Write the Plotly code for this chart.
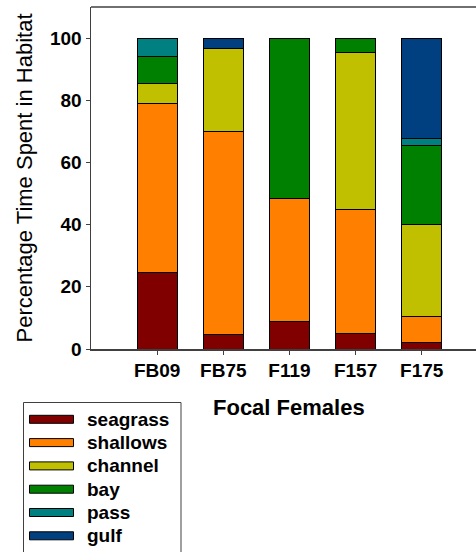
import plotly.graph_objects as go

# Time budget of each tracked female across habitat types (%)
females = ["FB09", "FB75", "F119", "F157", "F175"]
habitats = ["seagrass", "shallows", "channel", "bay", "pass", "gulf"]
colors = ["#800000", "#FF8000", "#C0C000", "#008000", "#008080", "#004080"]

seagrass = [24.5, 4.7, 8.9, 5.1, 2.2]
shallows = [54.6, 65.1, 39.4, 39.9, 8.3]
channel = [6.4, 26.7, 0.0, 50.4, 29.7]
bay = [8.5, 0.0, 51.7, 4.6, 25.2]
pass_ = [6.0, 0.0, 0.0, 0.0, 2.4]
gulf = [0.0, 3.5, 0.0, 0.0, 32.2]
series = [seagrass, shallows, channel, bay, pass_, gulf]

y_ticks = [0, 20, 40, 60, 80, 100]

W, H = 476, 552
ML, MR, MT, MB = 91, 0, 7, 203
PW, PH = W - ML - MR, H - MT - MB
PX_PER_CAT = 66.15

FONT = "Liberation Sans, Arial, sans-serif"
AXIS_COL = "#404040"

fig = go.Figure()
for name, vals, col in zip(habitats, series, colors):
    fig.add_trace(go.Bar(
        x=list(range(len(females))), y=vals, name=name, width=0.6,
        marker=dict(color=col, line=dict(color="black", width=1)),
        showlegend=False,
    ))


def px_x(px):
    return (px - ML) / PW


def px_y(py):
    return (H - MB - py) / PH


shapes = [
    # keep the open right side of the frame clean
    dict(type="rect", xref="paper", yref="paper",
         x0=px_x(466), x1=px_x(478), y0=px_y(347.6), y1=px_y(8.6),
         line=dict(width=0), fillcolor="white", layer="above"),
    # top frame line of the plot area
    dict(type="line", xref="paper", yref="paper", x0=0, x1=1.01, y0=1, y1=1,
         line=dict(color=AXIS_COL, width=1.5), layer="above"),
]

# Hand-built legend with wide swatches
shapes.append(dict(type="rect", xref="paper", yref="paper",
                   x0=px_x(23.5), x1=px_x(181), y0=px_y(402.5), y1=px_y(560),
                   line=dict(color=AXIS_COL, width=1), fillcolor="white", layer="above"))
annotations = []
for i, (name, col) in enumerate(zip(habitats, colors)):
    cy = 419.3 + 23.3 * i
    shapes.append(dict(type="rect", xref="paper", yref="paper",
                       x0=px_x(29.5), x1=px_x(73.5), y0=px_y(cy + 4), y1=px_y(cy - 4),
                       line=dict(color="black", width=1), fillcolor=col, layer="above"))
    annotations.append(dict(xref="paper", yref="paper", x=px_x(85), y=px_y(cy),
                            xanchor="left", yanchor="middle", showarrow=False,
                            text=f"<b>{name}</b>",
                            font=dict(family=FONT, size=19, color="black")))

# X axis title
annotations.append(dict(xref="paper", yref="paper", x=px_x(289), y=px_y(407),
                        xanchor="center", yanchor="middle", showarrow=False,
                        text="<b>Focal Females</b>",
                        font=dict(family=FONT, size=22, color="black")))

fig.update_layout(
    width=W, height=H,
    margin=dict(l=ML, r=MR, t=MT, b=MB, pad=0, autoexpand=False),
    paper_bgcolor="white", plot_bgcolor="white",
    barmode="stack", bargap=0.4,
    font=dict(family=FONT, color="black"),
    shapes=shapes, annotations=annotations,
    xaxis=dict(
        range=[-1, -1 + PW / PX_PER_CAT], tickvals=list(range(len(females))), ticktext=females,
        tickfont=dict(family=FONT, size=19, color="black", weight="bold"),
        ticks="outside", ticklen=4, tickcolor=AXIS_COL, tickwidth=1,
        showline=True, linecolor=AXIS_COL, linewidth=1.5,
        showgrid=False, zeroline=False, automargin=False,
    ),
    yaxis=dict(
        range=[0, 110], tickvals=y_ticks,
        tickfont=dict(family=FONT, size=19, color="black", weight="bold"),
        ticks="outside", ticklen=4, tickcolor=AXIS_COL, tickwidth=1,
        showline=True, linecolor=AXIS_COL, linewidth=1.5,
        showgrid=False, zeroline=False, automargin=False,
        title=dict(text="Percentage Time Spent in Habitat", standoff=11,
                   font=dict(family=FONT, size=22, color="black")),
    ),
)

fig.write_html("out.html", config={"staticPlot": True})
